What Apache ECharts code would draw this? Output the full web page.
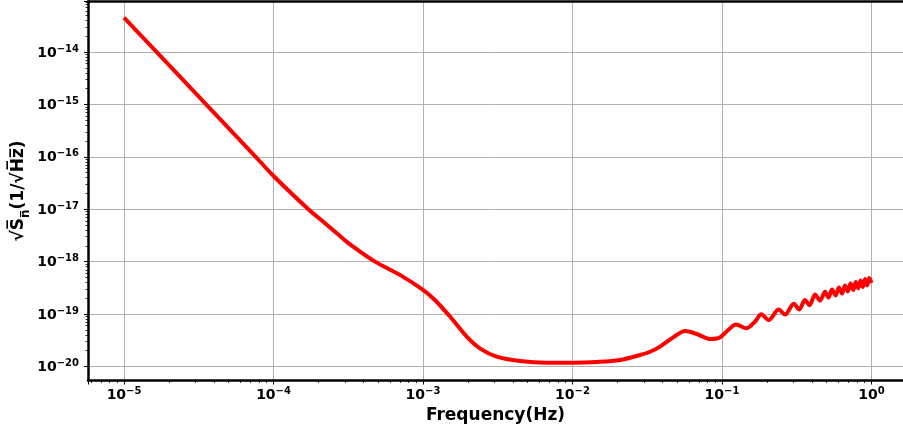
<!DOCTYPE html>
<html>
<head>
<meta charset="utf-8">
<script src="https://cdn.jsdelivr.net/npm/echarts@6/dist/echarts.min.js"></script>
<style>
  html, body { margin: 0; padding: 0; background: #fff; }
  #chart { width: 903px; height: 428px; }
</style>
</head>
<body>
<div id="chart"></div>
<script>
// frequency (Hz) and sensitivity sqrt(Sn)
const freqHz = [
  1.0e-5, 1.65e-5, 3.54e-5, 7.6e-5, 1.0e-4, 1.71e-4, 2.15e-4, 2.65e-4, 3.25e-4, 4.78e-4,
  7.0e-4, 1.0e-3, 1.2e-3, 1.52e-3, 1.96e-3, 2.40e-3, 3.11e-3, 4.45e-3, 6.72e-3, 1.0e-2,
  1.45e-2, 2.08e-2, 2.83e-2, 3.3e-2, 3.85e-2, 4.72e-2, 5.66e-2, 6.78e-2, 8.32e-2, 9.7e-2,
  0.110, 0.124, 0.146, 0.166, 0.183, 0.205, 0.239, 0.264, 0.302, 0.328,
  0.359, 0.385, 0.419, 0.452, 0.489, 0.515, 0.545, 0.575, 0.605, 0.635,
  0.665, 0.695, 0.725, 0.755, 0.785, 0.815, 0.845, 0.875, 0.905, 0.935,
  0.965, 1.0
];
const sqrtSn = [
  4.5e-14, 1.0e-14, 1.0e-15, 1.0e-16, 4.3e-17, 1.0e-17, 5.78e-18, 3.48e-18, 2.14e-18, 1.0e-18,
  5.6e-19, 2.9e-19, 1.86e-19, 8.9e-20, 3.71e-20, 2.22e-20, 1.54e-20, 1.27e-20, 1.18e-20, 1.18e-20,
  1.22e-20, 1.33e-20, 1.66e-20, 1.91e-20, 2.4e-20, 3.6e-20, 4.75e-20, 4.17e-20, 3.35e-20, 3.6e-20,
  4.97e-20, 6.3e-20, 5.36e-20, 7.16e-20, 9.95e-20, 7.7e-20, 1.22e-19, 9.8e-20, 1.58e-19, 1.22e-19,
  1.86e-19, 1.47e-19, 2.36e-19, 1.80e-19, 2.67e-19, 2.07e-19, 2.94e-19, 2.26e-19, 3.21e-19, 2.47e-19,
  3.51e-19, 2.70e-19, 3.83e-19, 2.88e-19, 4.09e-19, 3.08e-19, 4.38e-19, 3.29e-19, 4.67e-19, 3.51e-19,
  4.88e-19, 3.92e-19
];
const xLimits = [5.74e-6, 1.624];
const yLimits = [5.41e-21, 9.18e-14];

const font = 'DejaVu Sans';

// 10^n labels with a raised exponent
function powLabel(v) {
  const e = Math.log10(v);
  const r = Math.round(e);
  if (Math.abs(e - r) > 1e-6) return '';
  return '{b|10}{s|' + (r < 0 ? '\u2212' : '') + Math.abs(r) + '}';
}
const labelRich = {
  b: { fontFamily: font, fontWeight: 'bold', fontSize: 14, color: '#000', lineHeight: 16, verticalAlign: 'bottom' },
  s: { fontFamily: font, fontWeight: 'bold', fontSize: 10, color: '#000', lineHeight: 10, verticalAlign: 'top' }
};

const spine = { show: true, onZero: false, lineStyle: { color: '#000', width: 2.5 } };
const grid = { show: true, lineStyle: { color: '#b0b0b0', width: 1 } };

var myChart = echarts.init(document.getElementById('chart'));
myChart.setOption({
  animation: false,
  grid: { left: 88, right: 0, top: 1.5, bottom: 47.5, containLabel: false, outerBoundsMode: 'none' },
  xAxis: [
    {
      type: 'log',
      logBase: 10,
      min: xLimits[0],
      max: xLimits[1],
      name: 'Frequency(Hz)',
      nameLocation: 'middle',
      nameGap: 27,
      nameMoveOverlap: false,
      nameTextStyle: { fontFamily: font, fontWeight: 'bold', fontSize: 17, color: '#000' },
      axisLine: spine,
      axisTick: { show: true, length: 4, lineStyle: { color: '#000', width: 1 } },
      minorTick: { show: true, splitNumber: 9, length: 2.5, lineStyle: { color: '#000', width: 0.8 } },
      axisLabel: { formatter: powLabel, rich: labelRich, margin: 6, showMinLabel: false, showMaxLabel: false },
      splitLine: grid
    },
    {
      type: 'log',
      logBase: 10,
      position: 'top',
      min: xLimits[0],
      max: xLimits[1],
      axisLine: spine,
      axisTick: { show: false },
      axisLabel: { show: false },
      splitLine: { show: false }
    }
  ],
  yAxis: {
    type: 'log',
    logBase: 10,
    min: yLimits[0],
    max: yLimits[1],
    name: '{m|\u221AS\u0305}{n|n\u0305}{m|(1/\u221AH\u0305z\u0305)}',
    nameLocation: 'middle',
    nameGap: 56,
    nameMoveOverlap: false,
    nameTextStyle: {
      fontFamily: font, fontWeight: 'bold', fontSize: 17, color: '#000',
      rich: {
        m: { fontFamily: font, fontWeight: 'bold', fontSize: 17, color: '#000', lineHeight: 22, verticalAlign: 'top' },
        n: { fontFamily: font, fontWeight: 'bold', fontSize: 12, color: '#000', lineHeight: 14, verticalAlign: 'bottom' }
      }
    },
    axisLine: spine,
    axisTick: { show: true, length: 4, lineStyle: { color: '#000', width: 1 } },
    minorTick: { show: true, splitNumber: 9, length: 2.5, lineStyle: { color: '#000', width: 0.8 } },
    axisLabel: { formatter: powLabel, rich: labelRich, margin: 9, showMinLabel: false, showMaxLabel: false },
    splitLine: grid
  },
  series: [
    {
      type: 'line',
      data: freqHz.map((f, i) => [f, sqrtSn[i]]),
      showSymbol: false,
      smooth: 0.3,
      lineStyle: { color: '#ff0000', width: 4 },
      itemStyle: { color: '#ff0000' }
    }
  ]
});
</script>
</body>
</html>
